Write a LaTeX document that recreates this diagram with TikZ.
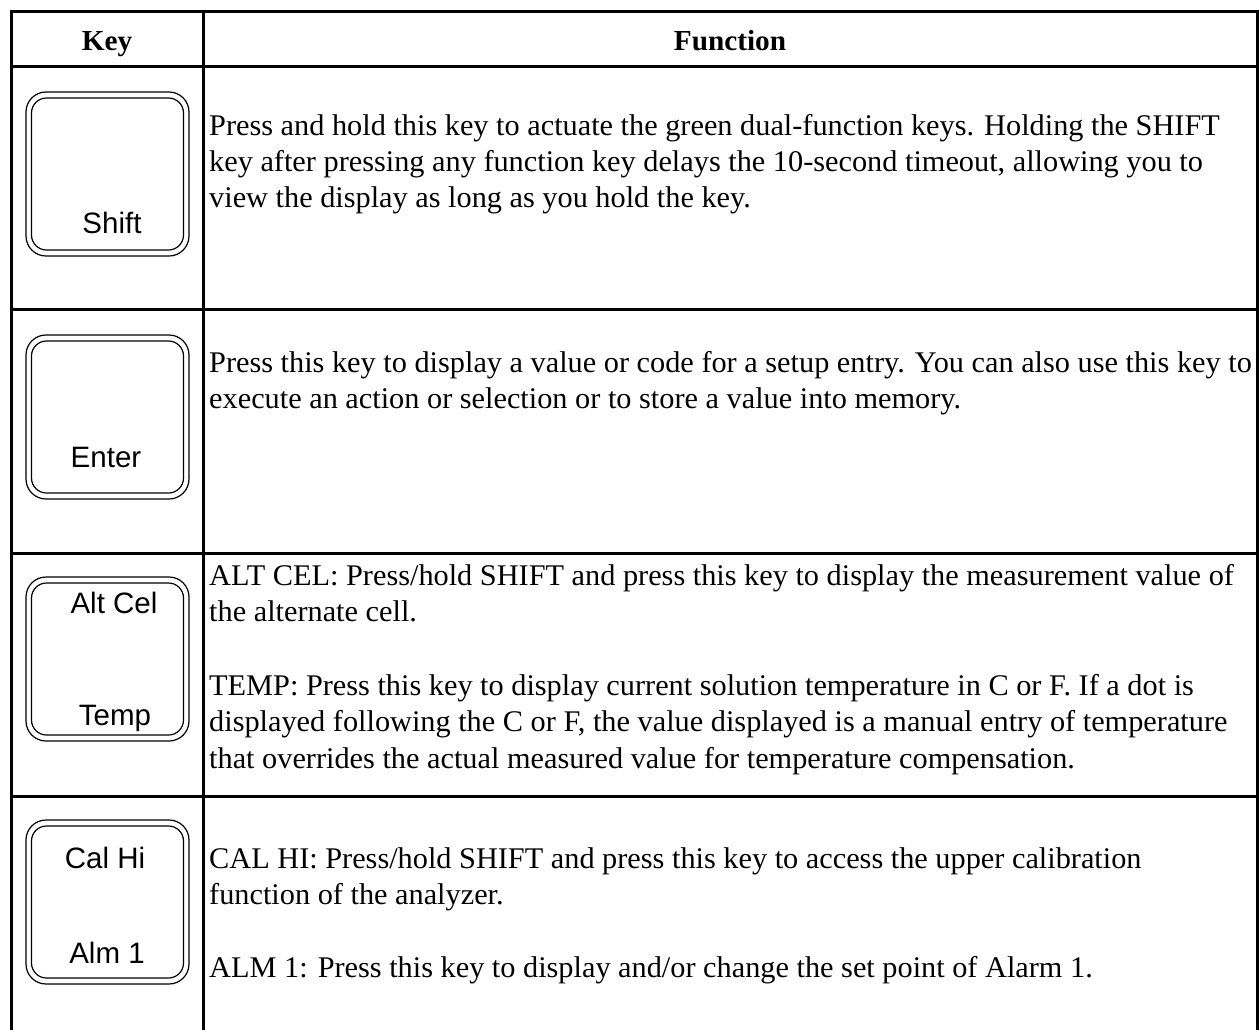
\documentclass[tikz,border=0pt]{standalone}
\usepackage{fontspec}
\setmainfont{Liberation Serif}[FakeStretch=1.01]
\newfontfamily\keyfont{Liberation Sans}
\begin{document}
\begin{tikzpicture}[x=1pt,y=-1pt,
  grid/.style={line width=3pt, line cap=rect},
  keyline/.style={line width=1.2pt},
  txt/.style={anchor=base west, inner sep=0pt, font=\fontsize{30}{36}\selectfont},
  head/.style={anchor=base, inner sep=0pt, font=\fontsize{29}{36}\selectfont\bfseries},
  keylab/.style={anchor=base, inner sep=0pt, font=\keyfont\fontsize{29.5}{34}\selectfont}]
\useasboundingbox (0,0) rectangle (1259,1029);
% table grid
\draw[grid] (11,11) -- (1257,11);
\draw[grid] (11,66.5) -- (1257,66.5);
\draw[grid] (11,309) -- (1257,309);
\draw[grid] (11,553) -- (1257,553);
\draw[grid] (11,796) -- (1257,796);
\draw[line width=3pt] (11,9.5) -- (11,1032);
\draw[line width=3pt] (203,9.5) -- (203,1032);
\draw[line width=3pt] (1257,9.5) -- (1257,1032);
% header
\node[head] (hkey) at (107,50) {Key};
\node[head] (hfun) at (730,50) {Function};
% key shapes
\foreach \t in {92,335,577,820}{
  \draw[keyline, rounded corners=20pt] (26,\t) rectangle (189,\t+164);
  \draw[keyline, rounded corners=15pt] (31.5,\t+6) rectangle (183.5,\t+158);
}
\node[keylab] (kshift) at (112,233) {Shift};
\node[keylab] (kenter) at (106,467) {Enter};
\node[keylab] (kalt) at (114,613) {Alt Cel};
\node[keylab] (ktemp) at (115,725) {Temp};
\node[keylab] (kcal) at (105,868) {Cal Hi};
\node[keylab] (kalm) at (107,963) {Alm 1};
% row 1
\node[txt] (r1a) at (209,135) {Press and hold this key to actuate the green dual-function keys. Holding the SHIFT};
\node[txt] (r1b) at (209,171) {key after pressing any function key delays the 10-second timeout, allowing you to};
\node[txt] (r1c) at (209,207) {view the display as long as you hold the key.};
% row 2
\node[txt] (r2a) at (209,372) {Press this key to display a value or code for a setup entry. You can also use this key to};
\node[txt] (r2b) at (209,408) {execute an action or selection or to store a value into memory.};
% row 3
\node[txt] (r3a) at (209,585) {ALT CEL: Press/hold SHIFT and press this key to display the measurement value of};
\node[txt] (r3b) at (209,621.5) {the alternate cell.};
\node[txt] (r3c) at (209,695) {TEMP: Press this key to display current solution temperature in C or F. If a dot is};
\node[txt] (r3d) at (209,731.5) {displayed following the C or F, the value displayed is a manual entry of temperature};
\node[txt] (r3e) at (209,768) {that overrides the actual measured value for temperature compensation.};
% row 4
\node[txt] (r4a) at (209,868) {CAL HI: Press/hold SHIFT and press this key to access the upper calibration};
\node[txt] (r4b) at (209,904) {function of the analyzer.};
\node[txt] (r4c) at (209,977) {ALM 1: Press this key to display and/or change the set point of Alarm 1.};
\end{tikzpicture}
\end{document}
